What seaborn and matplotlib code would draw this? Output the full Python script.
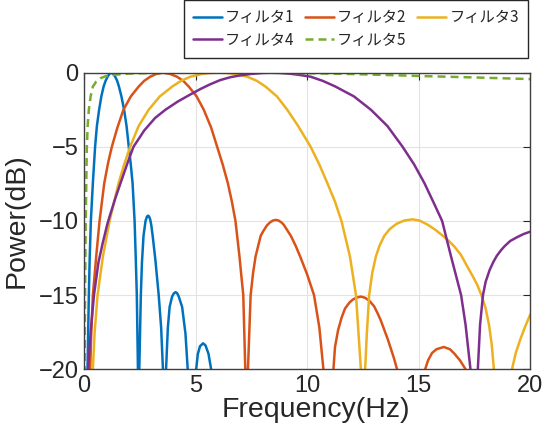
import seaborn as sns
import matplotlib.pyplot as plt

# frequency (Hz) / power (dB)
# values far below -20 just mark the nulls, they are clipped by the axes
freq1 = [0, 0.16, 0.19, 0.22, 0.26, 0.31, 0.4, 0.5, 0.58, 0.68, 0.78, 0.88, 0.97, 1.06, 1.14,
         1.22, 1.31, 1.40, 1.49, 1.57, 1.68, 1.80, 1.91, 2.01, 2.1, 2.18, 2.27, 2.32, 2.37, 2.42,
         2.45, 2.48, 2.55, 2.6, 2.67, 2.76, 2.82, 2.87, 2.92, 2.97, 3.02, 3.08, 3.2, 3.35, 3.46,
         3.54, 3.61, 3.68, 3.76, 3.84, 3.95, 4.03, 4.11, 4.18, 4.25, 4.4, 4.55, 4.65, 4.84,
         5.03, 5.1, 5.2, 5.34, 5.45, 5.58, 5.7, 5.9, 20]
power1 = [-60, -20, -17.5, -15, -12.4, -10, -7.46, -5, -3.6, -2.5, -1.6, -0.94, -0.55, -0.27, -0.08,
          0, -0.08, -0.27, -0.55, -0.94, -1.6, -2.5, -3.6, -5, -6.2, -7.46, -10, -12.4, -15, -20,
          -60, -20, -15, -12.8, -11, -10, -9.72, -9.64, -9.7, -9.9, -10.3, -11, -12.6, -15, -17.2,
          -20, -60, -20, -17.2, -15.8, -15.1, -14.88, -14.8, -14.88, -15.1, -15.8, -17.6, -20, -60,
          -20, -19, -18.45, -18.25, -18.4, -18.95, -20, -40, -40]

freq2 = [0, 0.28, 0.33, 0.40, 0.55, 0.70, 0.91, 1.08, 1.25, 1.5, 1.77, 2.1, 2.45, 2.7, 2.97,
         3.25, 3.54, 3.85, 4.17, 4.45, 4.7, 5.05, 5.37, 5.7, 5.97, 6.22, 6.45, 6.63, 6.79, 6.97,
         7.06, 7.14, 7.23, 7.29, 7.35, 7.47, 7.58, 7.69, 7.92, 8.05, 8.2, 8.35, 8.47, 8.59,
         8.72, 8.85, 8.95, 9.1, 9.27, 9.48, 9.69, 10.0, 10.31, 10.55, 10.73, 10.95, 11.18,
         11.25, 11.39, 11.55, 11.7, 11.9, 12.05, 12.25, 12.41, 12.6, 12.8, 13.0, 13.15, 13.3,
         13.46, 13.62, 13.75, 13.9, 14.03, 14.65, 15.29, 15.42, 15.6, 15.8, 16.12, 16.4, 16.6,
         16.85, 17.1, 17.6, 20]
power2 = [-60, -20, -17.5, -15, -12.4, -10, -7.46, -6.1, -5, -3.7, -2.5, -1.6, -0.94, -0.55, -0.27,
          -0.08, 0, -0.08, -0.27, -0.55, -0.94, -1.6, -2.5, -3.7, -5, -6.2, -7.46, -8.7, -10, -12.4,
          -13.8, -15, -20, -60, -20, -15, -13.5, -12.4, -11, -10.65, -10.3, -10.08, -9.97, -9.93,
          -9.97, -10.1, -10.25, -10.6, -11, -11.65, -12.4, -13.6, -15, -17.2, -20, -60, -20,
          -18.5, -17.35, -16.5, -15.9, -15.5, -15.3, -15.15, -15.1, -15.18, -15.4, -15.75, -16.2, -16.7,
          -17.35, -18.0, -18.6, -19.3, -20, -60, -20, -19.4, -18.9, -18.65, -18.5, -18.65, -18.95,
          -19.4, -20, -60, -40]

freq3 = [0, 0.40, 0.48, 0.61, 0.85, 1.15, 1.55, 1.8, 2.07, 2.45, 2.9, 3.4, 3.95, 4.35, 4.77,
         5.3, 5.65, 6.05, 6.4, 6.75, 7.32, 7.75, 8.14, 8.65, 9.11, 9.6, 10.16, 10.55, 10.91, 11.25,
         11.54, 11.92, 12.19, 12.3, 12.41, 12.5, 12.6, 12.68, 12.78, 12.92, 13.08, 13.25, 13.46,
         13.7, 14.0, 14.35, 14.73, 15.05, 15.4, 15.75, 16.08, 16.35, 16.6, 16.9, 17.15, 17.43,
         17.62, 17.81, 18.0, 18.15, 18.27, 18.37, 18.78, 19.18, 19.35, 19.55, 19.75, 20]
power3 = [-60, -20, -17.5, -15, -12.4, -10, -7.46, -6.2, -5, -3.6, -2.5, -1.6, -0.94, -0.55, -0.27,
          -0.08, -0.02, 0, -0.02, -0.08, -0.27, -0.55, -0.94, -1.6, -2.5, -3.6, -5, -6.2, -7.46, -8.7,
          -10, -12.4, -15, -17.5, -20, -60, -20, -17.5, -15, -13.5, -12.4, -11.65, -11,
          -10.55, -10.2, -9.97, -9.89, -9.98, -10.25, -10.6, -11, -11.35, -11.73, -12.3, -13.0, -13.75,
          -14.3, -15, -15.9, -17, -18.3, -20, -60, -20, -18.9, -18.0, -17.2, -16.3]

freq4 = [0, 0.19, 0.3, 0.45, 0.65, 0.84, 1.05, 1.17, 1.4, 1.65, 1.95, 2.22, 2.7, 3.19, 3.65, 4.2,
         4.73, 5.22, 5.63, 6.1, 6.57, 7.0, 7.5, 8.0, 8.37, 8.8, 9.3, 9.7, 10.16, 10.7, 11.25, 12.1,
         12.86, 13.6, 14.28, 14.8, 15.26, 15.65, 16.05, 16.45, 16.9, 17.1, 17.32, 17.48, 17.65,
         17.75, 17.88, 18.0, 18.18, 18.35, 18.5, 18.7, 18.85, 19.1, 19.4, 19.7, 20]
power4 = [-60, -20, -17.5, -15, -12.8, -11.5, -10.2, -9.6, -8.5, -7.4, -6.1, -5, -3.9, -3.05, -2.5, -1.95,
          -1.5, -1.1, -0.8, -0.5, -0.3, -0.18, -0.08, -0.02, 0, -0.02, -0.08, -0.16, -0.27, -0.55, -0.92,
          -1.6, -2.5, -3.6, -5, -6.2, -7.46, -8.7, -10, -12.4, -15, -17, -20, -60, -20,
          -17, -15, -14.1, -13.3, -12.75, -12.35, -11.95, -11.7, -11.35, -11.1, -10.88, -10.72]

freq5 = [0, 0.03, 0.05, 0.08, 0.13, 0.17, 0.22, 0.3, 0.4, 0.55, 0.73, 0.95, 1.18, 2, 3, 5, 8,
         10, 12, 13, 15, 17.5, 20]
power5 = [-60, -20, -15, -10, -5, -3.5, -2.5, -1.6, -0.94, -0.6, -0.38, -0.25, -0.16, -0.06, -0.02,
          0, 0, -0.03, -0.09, -0.13, -0.22, -0.32, -0.43]

labels = ["フィルタ1", "フィルタ2", "フィルタ3", "フィルタ4", "フィルタ5"]
colors = ["#0072BD", "#D95319", "#EDB120", "#7E2F8E", "#77AC30"]

sns.set_theme(style="whitegrid")
plt.rcParams["font.family"] = ["Liberation Sans", "Noto Sans CJK JP"]

fig = plt.figure(figsize=(5.45, 4.38), dpi=100)
ax = fig.add_axes([0.154, 0.157, 0.819, 0.677])

series = [(freq1, power1), (freq2, power2), (freq3, power3), (freq4, power4), (freq5, power5)]
for (f, p), lab, col in zip(series, labels, colors):
    style = (0, (3.2, 2.0)) if lab == "フィルタ5" else "-"
    sns.lineplot(x=f, y=p, ax=ax, color=col, linewidth=1.8, linestyle=style,
                 label=lab, estimator=None, sort=False)

ax.set_xlim(0, 20)
ax.set_ylim(-20, 0)
ax.set_xticks([0, 5, 10, 15, 20])
ax.set_yticks([-20, -15, -10, -5, 0])
ax.set_facecolor("white")
ax.grid(True, color="#e3e3e3", linewidth=0.8)
for s in ax.spines.values():
    s.set_color("#404040")
    s.set_linewidth(1.0)
ax.tick_params(direction="in", length=5, width=0.8, top=True, right=True,
               labelsize=17, colors="#262626", pad=4)
ax.set_xlabel("Frequency(Hz)", fontsize=20.5, color="#262626", labelpad=3)
ax.xaxis.set_label_coords(0.52, -0.095)
ax.set_ylabel("Power(dB)", fontsize=20.5, color="#262626", labelpad=6)

# legend fills row by row in the reference: reorder for matplotlib's column filling
handles, labs = ax.get_legend_handles_labels()
order = [0, 3, 1, 4, 2]
leg = ax.legend([handles[i] for i in order], [labs[i] for i in order],
                loc="upper right", bbox_to_anchor=(0.969, 1.0), bbox_transform=fig.transFigure,
                ncol=3, frameon=True, fancybox=False, framealpha=1,
                prop={"family": ["Noto Sans CJK JP"], "size": 11},
                edgecolor="#262626", handlelength=1.9, handletextpad=0.2,
                columnspacing=0.7, borderaxespad=0, borderpad=0.6, labelspacing=0.35)
leg.get_frame().set_linewidth(1.0)
for t in leg.get_texts():
    t.set_color("#262626")

fig.savefig("out.png", dpi=100, facecolor="white")
